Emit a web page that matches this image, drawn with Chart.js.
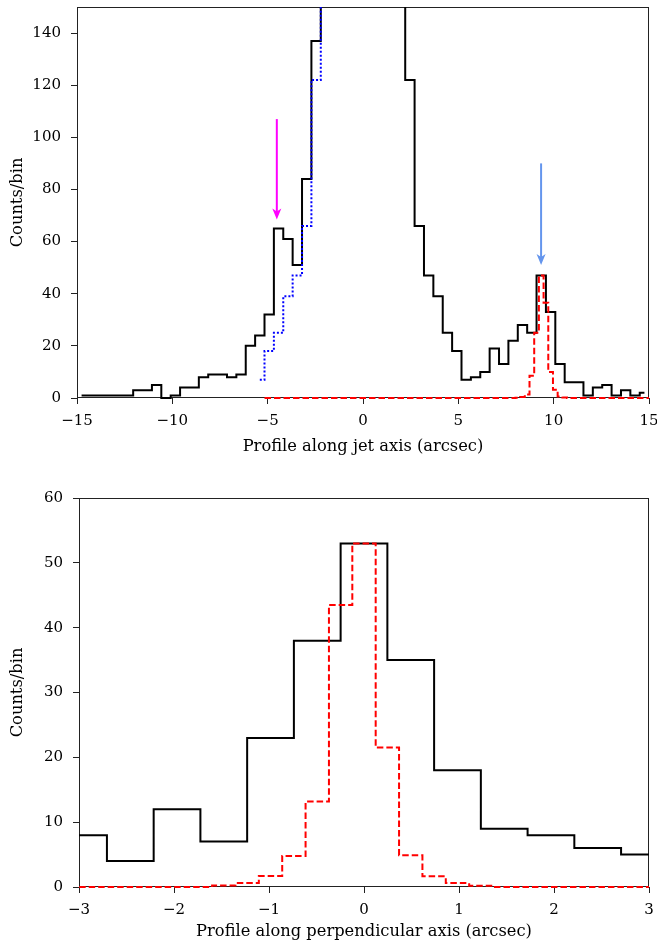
<!DOCTYPE html>
<html>
<head>
<meta charset="utf-8">
<script src="https://cdn.jsdelivr.net/npm/chart.js@4.4.1/dist/chart.umd.min.js"></script>
<style>
  html, body { margin: 0; padding: 0; background: #fff; }
  #wrap { position: relative; width: 657px; height: 946px; }
  .box { position: absolute; left: 0; width: 657px; }
  #jetBox { top: 0; height: 470px; }
  #perpBox { top: 470px; height: 476px; }
</style>
</head>
<body>
<div id="wrap">
  <div class="box" id="jetBox"><canvas id="jetChart"></canvas></div>
  <div class="box" id="perpBox"><canvas id="perpChart"></canvas></div>
</div>
<script>
// one detector pixel, arcsec
const PIXEL = 0.492;

// profile along the jet, one bin per pixel, bins -30..30
const jetStart = -30;
const jetCounts = [
  1, 1, 1, 1, 1, 1, 3, 3, 5, 0,
  1, 4, 4, 8, 9, 9, 8, 9, 20, 24,
  32, 65, 61, 51, 84, 137, 175, 260, 420, 610,
  700, 560, 360, 230, 160, 122, 66, 47, 39, 25,
  18, 7, 8, 10, 19, 13, 22, 28, 25, 47,
  33, 13, 6, 6, 1, 4, 5, 1, 3, 1,
  2
];

// jet side folded onto the counter-jet side, bins -11..0
const counterStart = -11;
const counterCounts = [7, 18, 25, 39, 47, 66, 122, 160, 230, 360, 560, 700];

// PSF model, half-pixel bins -21..61
const jetPsfStart = -21;
const jetPsf = [
  0, 0, 0, 0, 0, 0, 0, 0, 0, 0,
  0, 0, 0, 0, 0, 0, 0, 0, 0, 0,
  0, 0, 0, 0, 0, 0, 0, 0, 0, 0,
  0, 0, 0, 0, 0, 0, 0, 0, 0, 0,
  0, 0, 0, 0, 0, 0, 0, 0, 0, 0,
  0, 0, 0, 0, 0.1, 0.4, 1.3, 8.5, 25, 47,
  36.5, 10, 3.2, 0.6, 0.2, 0, 0, 0, 0, 0,
  0, 0, 0, 0, 0, 0, 0, 0, 0, 0,
  0, 0, 0
];

// profile across the jet, bins -7..7
const perpStart = -7;
const perpCounts = [6, 8, 4, 12, 7, 23, 38, 53, 35, 18, 9, 8, 6, 5, 4];

// PSF model across, half-pixel bins -13..13
const perpPsfStart = -13;
const perpPsf = [
  0, 0, 0, 0, 0, 0, 0, 0.25, 0.6, 1.7,
  4.8, 13.2, 43.5, 53, 21.5, 4.9, 1.65, 0.6, 0.2, 0,
  0, 0, 0, 0, 0, 0, 0
];

// knot markers (arcsec, counts from, counts to)
const arrowX = [-4.52, 9.34];
const arrowFrom = [107, 90];
const arrowTo = [68.5, 51];
const arrowColors = ["#ff00ff", "#6495ed"];

const toPoints = (values, start, width) =>
  values.map((v, i) => ({ x: (start + i) * width, y: v }));

const minus = (v) => (v < 0 ? "\u2212" + Math.abs(v) : String(v));

// box around the plot, drawn under the lines
const frame = {
  id: "frame",
  beforeDatasetsDraw(chart) {
    const { ctx, chartArea: a } = chart;
    ctx.save();
    ctx.strokeStyle = "#222";
    ctx.lineWidth = 1;
    ctx.strokeRect(Math.round(a.left) + 0.5, Math.round(a.top) + 0.5,
      Math.round(a.width) - 1, Math.round(a.height) - 1);
    ctx.restore();
  },
};

const arrows = {
  id: "arrows",
  afterDatasetsDraw(chart) {
    const { ctx, scales: { x, y } } = chart;
    arrowX.forEach((ax, i) => {
      const px = x.getPixelForValue(ax);
      const top = y.getPixelForValue(arrowFrom[i]);
      const tip = y.getPixelForValue(arrowTo[i]);
      ctx.save();
      ctx.strokeStyle = arrowColors[i];
      ctx.fillStyle = arrowColors[i];
      ctx.lineWidth = 2;
      ctx.beginPath();
      ctx.moveTo(px, top);
      ctx.lineTo(px, tip - 6);
      ctx.stroke();
      ctx.beginPath();
      ctx.moveTo(px, tip);
      ctx.lineTo(px - 4.5, tip - 11);
      ctx.lineTo(px, tip - 8);
      ctx.lineTo(px + 4.5, tip - 11);
      ctx.closePath();
      ctx.fill();
      ctx.restore();
    });
  },
};

const lineClip = { left: 0, top: 0, right: 0, bottom: 1 };

const blackLine = (data) => ({
  data,
  borderColor: "#000",
  borderWidth: 2,
  stepped: "middle",
  pointRadius: 0,
  fill: false,
  clip: lineClip,
  order: 3,
});

const redLine = (data) => ({
  data,
  borderColor: "#ff0000",
  borderWidth: 2,
  borderDash: [6.5, 3],
  stepped: "middle",
  pointRadius: 0,
  fill: false,
  clip: lineClip,
  order: 1,
});

const makeOptions = (o) => ({
  responsive: true,
  maintainAspectRatio: false,
  animation: false,
  layout: { padding: { top: o.padTop, right: 0, left: 0, bottom: 0 } },
  plugins: { legend: { display: false }, tooltip: { enabled: false } },
  scales: {
    x: {
      type: "linear",
      min: o.xMin,
      max: o.xMax,
      afterFit: (scale) => {
        scale.height = o.xHeight;
        scale.paddingLeft = 0;
        scale.paddingRight = 8;
      },
      grid: { drawOnChartArea: false, drawTicks: true, tickLength: 6, color: "#222" },
      border: { display: false },
      ticks: {
        stepSize: o.xStep,
        padding: 8,
        color: "#000",
        font: { family: "DejaVu Serif", size: 15 },
        callback: minus,
        maxRotation: 0,
      },
      title: {
        display: true,
        text: o.xTitle,
        color: "#000",
        font: { family: "DejaVu Serif", size: 16.3 },
        padding: { top: 0, bottom: o.titlePad },
      },
    },
    y: {
      min: 0,
      max: o.yMax,
      afterFit: (scale) => {
        scale.width = o.yWidth;
        scale.paddingTop = 0;
        scale.paddingBottom = 0;
      },
      grid: { drawOnChartArea: false, drawTicks: true, tickLength: 6, color: "#222" },
      border: { display: false },
      ticks: {
        stepSize: o.yStep,
        includeBounds: false,
        padding: 10,
        color: "#000",
        font: { family: "DejaVu Serif", size: 15 },
      },
      title: {
        display: true,
        text: "Counts/bin",
        color: "#000",
        font: { family: "DejaVu Serif", size: 16.3 },
        padding: { top: 7.7, bottom: 0 },
      },
    },
  },
});

new Chart(document.getElementById("jetChart"), {
  type: "line",
  data: {
    datasets: [
      blackLine(toPoints(jetCounts, jetStart, PIXEL)),
      {
        data: toPoints(counterCounts, counterStart, PIXEL),
        borderColor: "#0000ff",
        borderWidth: 2,
        borderDash: [2, 2],
        stepped: "middle",
        pointRadius: 0,
        fill: false,
        clip: lineClip,
        order: 2,
      },
      redLine(toPoints(jetPsf, jetPsfStart, PIXEL / 2)),
    ],
  },
  options: makeOptions({
    xMin: -15, xMax: 15, xStep: 5, yMax: 150, yStep: 20,
    xTitle: "Profile along jet axis (arcsec)",
    padTop: 7, xHeight: 72, yWidth: 77, titlePad: 13.2,
  }),
  plugins: [frame, arrows],
});

new Chart(document.getElementById("perpChart"), {
  type: "line",
  data: {
    datasets: [
      blackLine(toPoints(perpCounts, perpStart, PIXEL)),
      redLine(toPoints(perpPsf, perpPsfStart, PIXEL / 2)),
    ],
  },
  options: makeOptions({
    xMin: -3, xMax: 3, xStep: 1, yMax: 60, yStep: 10,
    xTitle: "Profile along perpendicular axis (arcsec)",
    padTop: 28, xHeight: 59, yWidth: 79, titlePad: 4.2,
  }),
  plugins: [frame],
});
</script>
</body>
</html>
